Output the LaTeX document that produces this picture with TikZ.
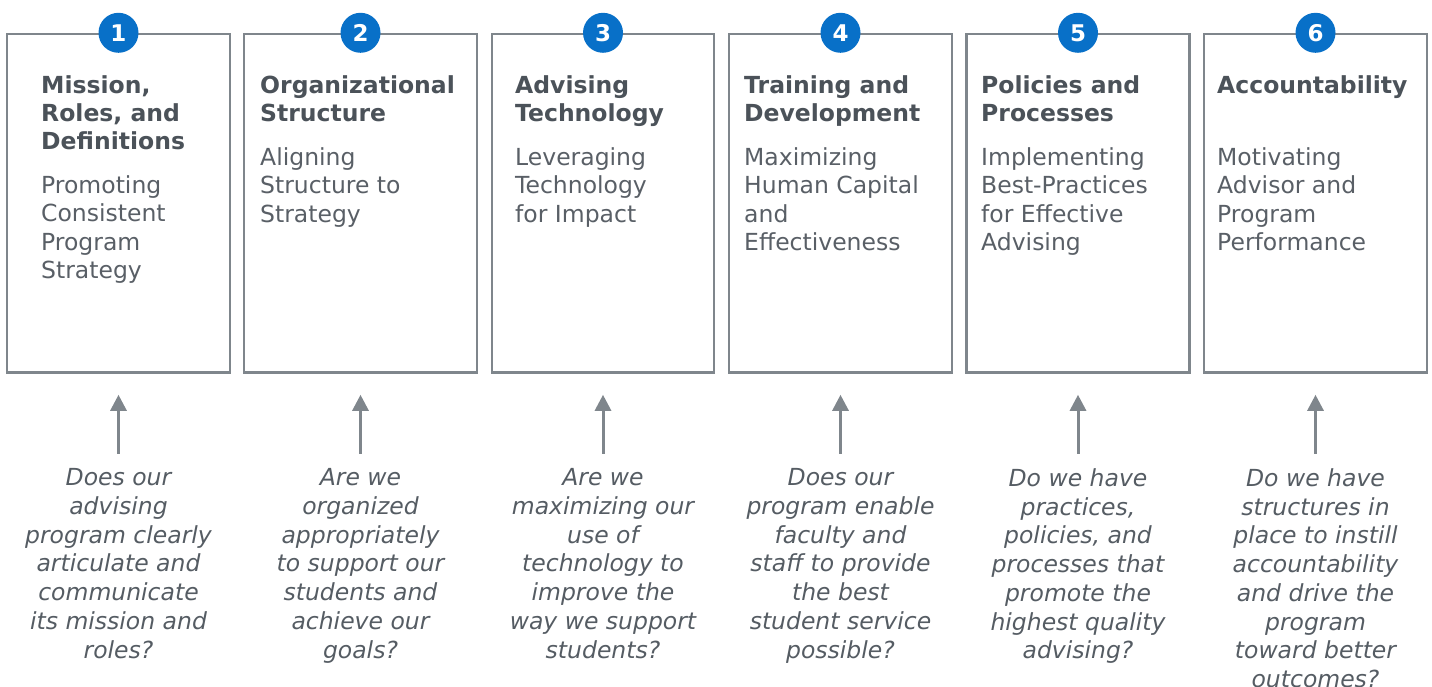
\documentclass[tikz,border=0pt]{standalone}
\usepackage{fontspec}
\setmainfont{DejaVu Sans}
\usetikzlibrary{positioning, arrows.meta}

\definecolor{framegray}{HTML}{7F868C}
\definecolor{badgeblue}{HTML}{0870C8}
\definecolor{headgray}{HTML}{4B5259}
\definecolor{bodygray}{HTML}{595F66}
\definecolor{askgray}{HTML}{555C63}

\begin{document}
\begin{tikzpicture}[x=1pt, y=-1pt,
    panel/.style={draw=framegray, line width=2.5pt, minimum height=338.5pt},
    badge/.style={circle, fill=badgeblue, text=white, minimum size=40pt, inner sep=0pt,
                  font=\fontsize{23}{26}\selectfont\bfseries},
    heading/.style={anchor=north west, inner sep=0pt, align=left, text=headgray,
                    font=\fontsize{23.5}{28}\selectfont\bfseries},
    blurb/.style={anchor=north west, inner sep=0pt, align=left, text=bodygray,
                  font=\fontsize{23.5}{28.5}\selectfont},
    question/.style={anchor=north, inner sep=0pt, align=center, text=askgray,
                     font=\itshape\fontsize{23.5}{28.7}\selectfont},
    uparrow/.style={draw=framegray, line width=3pt, -{Triangle[width=16pt,length=16pt]},
                    shorten <=15pt, shorten >=21pt}]
    \useasboundingbox (0,0) rectangle (1432,687);

    % 1 - Mission
    \node[panel, minimum width=223pt] (b1) at (118.5,203.3) {};
    \node[badge] (n1) at (b1.north) {1};
    \node[heading] (t1) at (41,75) {Mission,\\Roles, and\\Definitions};
    \node[blurb] (s1) at (41,175) {Promoting\\Consistent\\Program\\Strategy};
    \node[question] (q1) at (118.5,468.5) {Does our\\advising\\program clearly\\articulate and\\communicate\\its mission and\\roles?};
    \draw[uparrow] (q1.north) -- (b1.south);

    % 2 - Organizational Structure
    \node[panel, minimum width=233pt] (b2) at (360.5,203.3) {};
    \node[badge] (n2) at (b2.north) {2};
    \node[heading] (t2) at (260,75) {Organizational\\Structure};
    \node[blurb] (s2) at (260,147) {Aligning\\Structure to\\Strategy};
    \node[question] (q2) at (360.5,468.5) {Are we\\organized\\appropriately\\to support our\\students and\\achieve our\\goals?};
    \draw[uparrow] (q2.north) -- (b2.south);

    % 3 - Advising Technology
    \node[panel, minimum width=222pt] (b3) at (603,203.3) {};
    \node[badge] (n3) at (b3.north) {3};
    \node[heading] (t3) at (515,75) {Advising\\Technology};
    \node[blurb] (s3) at (515,147) {Leveraging\\Technology\\for Impact};
    \node[question] (q3) at (603,468.5) {Are we\\maximizing our\\use of\\technology to\\improve the\\way we support\\students?};
    \draw[uparrow] (q3.north) -- (b3.south);

    % 4 - Training and Development
    \node[panel, minimum width=223pt] (b4) at (840.5,203.3) {};
    \node[badge] (n4) at (b4.north) {4};
    \node[heading] (t4) at (744,75) {Training and\\Development};
    \node[blurb] (s4) at (744,147) {Maximizing\\Human Capital\\and\\Effectiveness};
    \node[question] (q4) at (840.5,468.5) {Does our\\program enable\\faculty and\\staff to provide\\the best\\student service\\possible?};
    \draw[uparrow] (q4.north) -- (b4.south);

    % 5 - Policies and Processes
    \node[panel, minimum width=223pt] (b5) at (1078,203.3) {};
    \node[badge] (n5) at (b5.north) {5};
    \node[heading] (t5) at (981,75) {Policies and\\Processes};
    \node[blurb] (s5) at (981,147) {Implementing\\Best-Practices\\for Effective\\Advising};
    \node[question] (q5) at (1078,468.5) {Do we have\\practices,\\policies, and\\processes that\\promote the\\highest quality\\advising?};
    \draw[uparrow] (q5.north) -- (b5.south);

    % 6 - Accountability
    \node[panel, minimum width=223pt] (b6) at (1315.5,203.3) {};
    \node[badge] (n6) at (b6.north) {6};
    \node[heading] (t6) at (1217,75) {Accountability};
    \node[blurb] (s6) at (1217,147) {Motivating\\Advisor and\\Program\\Performance};
    \node[question] (q6) at (1315.5,468.5) {Do we have\\structures in\\place to instill\\accountability\\and drive the\\program\\toward better\\outcomes?};
    \draw[uparrow] (q6.north) -- (b6.south);
\end{tikzpicture}
\end{document}
